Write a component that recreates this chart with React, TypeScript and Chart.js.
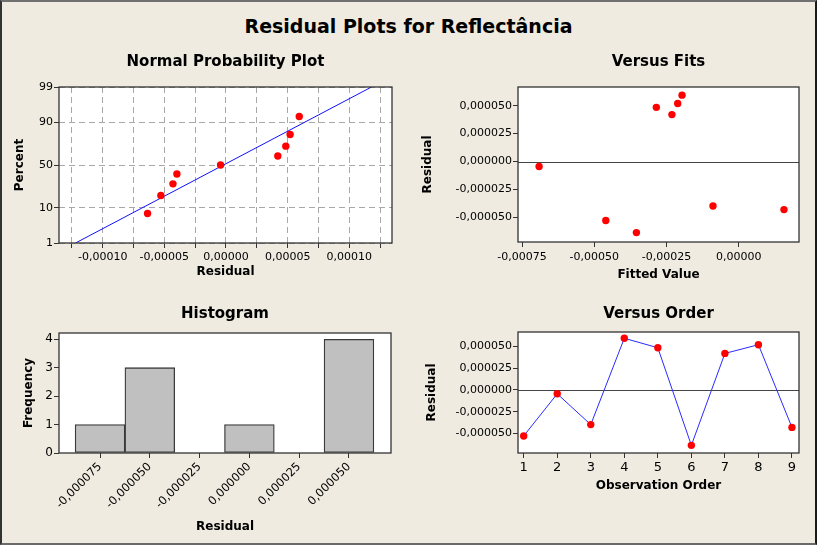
import React, { useEffect, useRef } from 'react';
import { Chart, registerables } from 'chart.js';

Chart.register(...registerables);

// ---------------- DATA ----------------
const observationOrder = [1, 2, 3, 4, 5, 6, 7, 8, 9];
const residuals = [-0.0000528, -0.0000044, -0.0000398, 0.0000594, 0.0000485, -0.0000636, 0.000042, 0.000052, -0.000043];
const fittedValues = [-0.00046, -0.000691, -0.0000888, -0.000196, -0.000285, -0.000354, -0.000231, -0.000211, 0.000157];
const normalPercents = [7.4, 18.1, 28.7, 39.4, 50.0, 60.6, 71.3, 81.9, 92.6];
const fitLineResidual = [-0.000122, 0.000118];
const fitLinePercent = [1, 99];
const binCenters = [-0.000075, -0.00005, -0.000025, 0, 0.000025, 0.00005];
const frequencies = [1, 3, 0, 1, 0, 4];

const normalXTicks = [-0.000125, -0.0001, -0.000075, -0.00005, -0.000025, 0, 0.000025, 0.00005, 0.000075, 0.0001, 0.000125];
const percentTicks = [1, 10, 50, 90, 99];
const residualTicks = [-0.00005, -0.000025, 0, 0.000025, 0.00005];
const fittedTicks = [-0.00075, -0.0005, -0.00025, 0];
const frequencyTicks = [0, 1, 2, 3, 4];

const mainTitle = 'Residual Plots for Reflectância';

// ---------------- HELPERS ----------------
const FONT = "'DejaVu Sans', Verdana, sans-serif";
const TICK_FONT = { family: FONT, size: 11 };
const BG = '#EFEBE1';

function probit(p: number): number {
  const a = [-3.969683028665376e1, 2.209460984245205e2, -2.759285104469687e2, 1.38357751867269e2, -3.066479806614716e1, 2.506628277459239];
  const b = [-5.447609879822406e1, 1.615858368580409e2, -1.556989798598866e2, 6.680131188771972e1, -1.328068155288572e1];
  const c = [-7.784894002430293e-3, -3.223964580411365e-1, -2.400758277161838, -2.549732539343734, 4.374664141464968, 2.938163982698783];
  const d = [7.784695709041462e-3, 3.224671290700398e-1, 2.445134137142996, 3.754408661907416];
  const pl = 0.02425;
  const ph = 1 - pl;
  let q: number, r: number;
  if (p < pl) {
    q = Math.sqrt(-2 * Math.log(p));
    return (((((c[0] * q + c[1]) * q + c[2]) * q + c[3]) * q + c[4]) * q + c[5]) / ((((d[0] * q + d[1]) * q + d[2]) * q + d[3]) * q + 1);
  }
  if (p <= ph) {
    q = p - 0.5;
    r = q * q;
    return ((((((a[0] * r + a[1]) * r + a[2]) * r + a[3]) * r + a[4]) * r + a[5]) * q) / (((((b[0] * r + b[1]) * r + b[2]) * r + b[3]) * r + b[4]) * r + 1);
  }
  q = Math.sqrt(-2 * Math.log(1 - p));
  return -(((((c[0] * q + c[1]) * q + c[2]) * q + c[3]) * q + c[4]) * q + c[5]) / ((((d[0] * q + d[1]) * q + d[2]) * q + d[3]) * q + 1);
}

const fmt = (v: number, dec: number) => {
  const s = Math.abs(v) < 1e-12 ? (0).toFixed(dec) : v.toFixed(dec);
  return s.replace('.', ',');
};

const setTicks = (values: number[]) => (scale: any) => {
  scale.ticks = values.map((v) => ({ value: v }));
};

const axisTitle = (text: string, padding: any) => ({
  display: true,
  text,
  color: '#000',
  font: { family: FONT, size: 12, weight: 'bold' as const },
  padding,
});

const subTitle = (text: string, top: number, bottom: number) => ({
  display: true,
  text,
  color: '#000',
  fullSize: false,
  font: { family: FONT, size: 15, weight: 'bold' as const },
  padding: { top, bottom },
});

const framePlugin = {
  id: 'frame',
  beforeDraw(chart: any) {
    const { ctx, chartArea: a } = chart;
    ctx.save();
    ctx.fillStyle = '#FFFFFF';
    ctx.fillRect(a.left, a.top, a.right - a.left, a.bottom - a.top);
    ctx.restore();
  },
  afterDraw(chart: any) {
    const { ctx, chartArea: a } = chart;
    ctx.save();
    ctx.strokeStyle = '#333333';
    ctx.lineWidth = 1.3;
    ctx.strokeRect(a.left, a.top, a.right - a.left, a.bottom - a.top);
    ctx.restore();
  },
};

const refLinePlugin = {
  id: 'refLine',
  beforeDatasetsDraw(chart: any, _args: any, opts: any) {
    if (!opts || opts.value === undefined) return;
    const { ctx, chartArea: a } = chart;
    const y = chart.scales.y.getPixelForValue(opts.value);
    ctx.save();
    ctx.strokeStyle = '#444444';
    ctx.lineWidth = 1;
    ctx.beginPath();
    ctx.moveTo(a.left, Math.round(y) + 0.5);
    ctx.lineTo(a.right, Math.round(y) + 0.5);
    ctx.stroke();
    ctx.restore();
  },
};

const baseGridNoArea = {
  drawOnChartArea: false,
  drawTicks: true,
  tickLength: 5,
  tickColor: '#333333',
  tickWidth: 1,
  offset: false,
};

// ---------------- CONFIGS ----------------
function normalConfig(): any {
  const sorted = [...residuals].sort((p, q) => p - q);
  return {
    type: 'scatter',
    data: {
      datasets: [
        {
          data: sorted.map((r, i) => ({ x: r, y: probit(normalPercents[i] / 100) })),
          pointRadius: 3.7,
          pointBackgroundColor: '#FF0000',
          pointBorderWidth: 0,
          pointHoverRadius: 3.7,
        },
        {
          data: fitLineResidual.map((r, i) => ({ x: r, y: probit(fitLinePercent[i] / 100) })),
          showLine: true,
          borderColor: '#1010FF',
          borderWidth: 1,
          pointRadius: 0,
        },
      ],
    },
    options: {
      responsive: false,
      animation: false,
      devicePixelRatio: 1,
      layout: { padding: { left: 0, right: 16, top: 0, bottom: 0 } },
      plugins: {
        legend: { display: false },
        tooltip: { enabled: false },
        title: subTitle('Normal Probability Plot', 13, 16),
      },
      scales: {
        x: {
          type: 'linear',
          min: -0.0001354,
          max: 0.0001346,
          afterBuildTicks: setTicks(normalXTicks),
          afterFit: (s: any) => { s.height = 47; },
          ticks: {
            autoSkip: false,
            maxRotation: 0,
            color: '#000',
            font: TICK_FONT,
            padding: 3,
            callback: (v: number) => (Math.abs(Math.round(v / 0.00005) * 0.00005 - v) < 1e-10 ? fmt(v, 5) : ''),
          },
          grid: { drawOnChartArea: true, drawTicks: true, tickLength: 5, tickColor: '#333333', color: '#A8A8A8', lineWidth: 1 },
          border: { display: false, dash: [6, 4] },
          title: axisTitle('Residual', { top: 0, bottom: 10.8 }),
        },
        y: {
          type: 'linear',
          min: probit(0.01),
          max: probit(0.99),
          afterBuildTicks: setTicks(percentTicks.map((p) => probit(p / 100))),
          afterFit: (s: any) => { s.width = 59; },
          ticks: {
            autoSkip: false,
            color: '#000',
            font: TICK_FONT,
            padding: 1,
            callback: (_v: number, i: number) => String(percentTicks[i]),
          },
          grid: { drawOnChartArea: true, drawTicks: true, tickLength: 5, tickColor: '#333333', color: '#A8A8A8', lineWidth: 1 },
          border: { display: false, dash: [6, 4] },
          title: axisTitle('Percent', { top: 12.8, bottom: 0 }),
        },
      },
    },
    plugins: [framePlugin],
  };
}

function fitsConfig(): any {
  return {
    type: 'scatter',
    data: {
      datasets: [
        {
          data: fittedValues.map((f, i) => ({ x: f, y: residuals[i] })),
          pointRadius: 3.7,
          pointBackgroundColor: '#FF0000',
          pointBorderWidth: 0,
          pointHoverRadius: 3.7,
        },
      ],
    },
    options: {
      responsive: false,
      animation: false,
      devicePixelRatio: 1,
      layout: { padding: { left: 0, right: 18, top: 0, bottom: 0 } },
      plugins: {
        legend: { display: false },
        tooltip: { enabled: false },
        title: subTitle('Versus Fits', 13, 16),
        refLine: { value: 0 },
      },
      scales: {
        x: {
          type: 'linear',
          min: -0.000764,
          max: 0.000209,
          afterBuildTicks: setTicks(fittedTicks),
          afterFit: (s: any) => { s.height = 48; },
          ticks: { autoSkip: false, maxRotation: 0, color: '#000', font: TICK_FONT, padding: 4, callback: (v: number) => fmt(v, 5) },
          grid: baseGridNoArea,
          border: { display: false },
          title: axisTitle('Fitted Value', { top: 0, bottom: 7.8 }),
        },
        y: {
          type: 'linear',
          min: -0.000072,
          max: 0.0000667,
          afterBuildTicks: setTicks(residualTicks),
          afterFit: (s: any) => { s.width = 110; },
          ticks: { autoSkip: false, color: '#000', font: TICK_FONT, padding: 1, callback: (v: number) => fmt(v, 6) },
          grid: baseGridNoArea,
          border: { display: false },
          title: axisTitle('Residual', { top: 12.8, bottom: 0 }),
        },
      },
    },
    plugins: [framePlugin, refLinePlugin],
  };
}

function histConfig(): any {
  return {
    type: 'bar',
    data: {
      datasets: [
        {
          data: binCenters.map((c, i) => ({ x: c, y: frequencies[i] })),
          backgroundColor: '#C0C0C0',
          borderColor: '#3A3A3A',
          borderWidth: 1.3,
          borderSkipped: false,
          barPercentage: 1,
          categoryPercentage: 1,
        },
      ],
    },
    options: {
      responsive: false,
      animation: false,
      devicePixelRatio: 1,
      layout: { padding: { left: 0, right: 17, top: 0, bottom: 0 } },
      plugins: {
        legend: { display: false },
        tooltip: { enabled: false },
        title: subTitle('Histogram', 15, 10),
      },
      scales: {
        x: {
          type: 'linear',
          offset: false,
          min: -0.0000956,
          max: 0.0000711,
          afterBuildTicks: setTicks(binCenters),
          afterFit: (s: any) => { s.height = 92; },
          ticks: { autoSkip: false, minRotation: 45, maxRotation: 45, color: '#000', font: { family: FONT, size: 11.5 }, padding: 2, callback: (v: number) => fmt(v, 6) },
          grid: baseGridNoArea,
          border: { display: false },
          title: axisTitle('Residual', { top: 0, bottom: 10.8 }),
        },
        y: {
          type: 'linear',
          min: 0,
          max: 4.22,
          afterBuildTicks: setTicks(frequencyTicks),
          afterFit: (s: any) => { s.width = 59; },
          ticks: { autoSkip: false, color: '#000', font: { family: FONT, size: 12 }, padding: 1, callback: (v: number) => String(v) },
          grid: baseGridNoArea,
          border: { display: false },
          title: axisTitle('Frequency', { top: 21.5, bottom: 0 }),
        },
      },
    },
    plugins: [framePlugin],
  };
}

function orderConfig(): any {
  return {
    type: 'line',
    data: {
      datasets: [
        {
          data: observationOrder.map((o, i) => ({ x: o, y: residuals[i] })),
          borderColor: '#2B2BFF',
          borderWidth: 1,
          tension: 0,
          pointRadius: 3.7,
          pointBackgroundColor: '#FF0000',
          pointBorderWidth: 0,
          pointHoverRadius: 3.7,
          fill: false,
        },
      ],
    },
    options: {
      responsive: false,
      animation: false,
      devicePixelRatio: 1,
      layout: { padding: { left: 0, right: 18, top: 0, bottom: 0 } },
      plugins: {
        legend: { display: false },
        tooltip: { enabled: false },
        title: subTitle('Versus Order', 15, 9),
        refLine: { value: 0 },
      },
      scales: {
        x: {
          type: 'linear',
          min: 0.83,
          max: 9.21,
          afterBuildTicks: setTicks(observationOrder),
          afterFit: (s: any) => { s.height = 92; },
          ticks: { autoSkip: false, maxRotation: 0, color: '#000', font: { family: FONT, size: 13 }, padding: 2, callback: (v: number) => String(v) },
          grid: baseGridNoArea,
          border: { display: false },
          title: axisTitle('Observation Order', { top: 0, bottom: 52 }),
        },
        y: {
          type: 'linear',
          min: -0.0000724,
          max: 0.0000666,
          afterBuildTicks: setTicks(residualTicks),
          afterFit: (s: any) => { s.width = 110; },
          ticks: { autoSkip: false, color: '#000', font: TICK_FONT, padding: 1, callback: (v: number) => fmt(v, 6) },
          grid: baseGridNoArea,
          border: { display: false },
          title: axisTitle('Residual', { top: 16.8, bottom: 0 }),
        },
      },
    },
    plugins: [framePlugin, refLinePlugin],
  };
}

// ---------------- COMPONENTS ----------------
function Panel(props: { left: number; top: number; width: number; height: number; make: () => any }) {
  const { left, top, width, height, make } = props;
  const ref = useRef<HTMLCanvasElement>(null);
  useEffect(() => {
    const chart = new Chart(ref.current as HTMLCanvasElement, make());
    return () => chart.destroy();
  }, []);
  return (
    <div style={{ position: 'absolute', left, top, width, height }}>
      <canvas ref={ref} width={width} height={height} style={{ display: 'block', width, height }} />
    </div>
  );
}

export default function App() {
  return (
    <div style={{ position: 'fixed', left: 0, top: 0, width: 817, height: 545, background: BG, overflow: 'hidden' }}>
      <div
        style={{
          position: 'absolute',
          left: 0,
          top: 15,
          width: 817,
          textAlign: 'center',
          fontFamily: FONT,
          fontWeight: 'bold',
          fontSize: 19,
          lineHeight: '23px',
          color: '#000',
        }}
      >
        {mainTitle}
      </div>
      <Panel left={0} top={40} width={408} height={250} make={normalConfig} />
      <Panel left={408} top={40} width={409} height={250} make={fitsConfig} />
      <Panel left={0} top={290} width={408} height={255} make={histConfig} />
      <Panel left={408} top={290} width={409} height={255} make={orderConfig} />
      <div
        style={{
          position: 'absolute',
          left: 0,
          top: 0,
          width: 817,
          height: 545,
          boxSizing: 'border-box',
          borderTop: '2px solid #707070',
          borderLeft: '2px solid #333333',
          borderRight: '2px solid #1A1A1A',
          borderBottom: '2px solid #6A6A6A',
          pointerEvents: 'none',
        }}
      />
    </div>
  );
}
